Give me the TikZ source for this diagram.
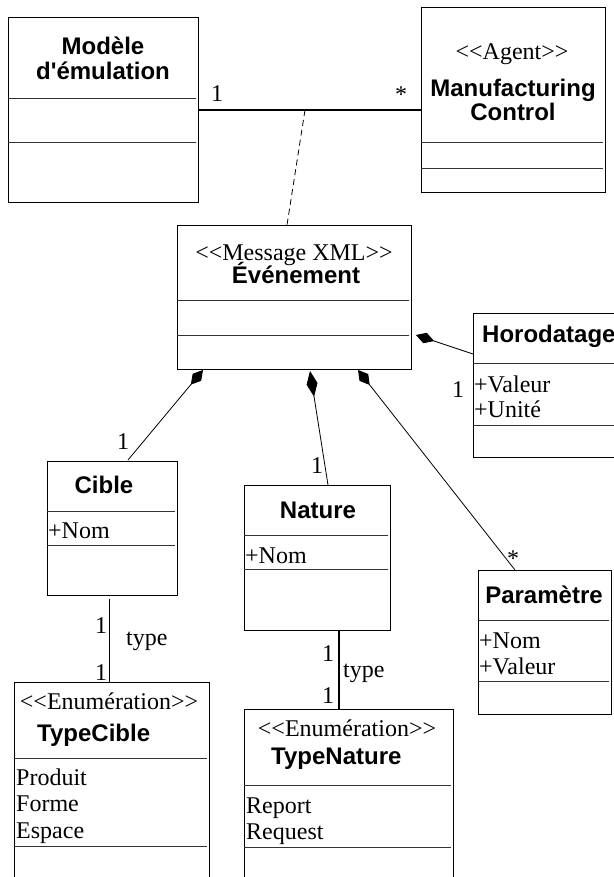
\documentclass[tikz,border=0pt]{standalone}
\usepackage{fontspec}
\newfontfamily\umlserif{Liberation Serif}
\newfontfamily\clsfont{Liberation Sans}
\usetikzlibrary{arrows.meta,calc}

\begin{document}
\begin{tikzpicture}[x=1pt, y=-1pt,
  font=\umlserif\fontsize{24}{26}\selectfont,
  cls/.style={draw, line width=1pt, anchor=north west, inner sep=0pt},
  sep/.style={line width=1pt, draw=black!80, shorten >=3pt},
  cname/.style={font=\clsfont\bfseries\fontsize{24}{25}\selectfont, inner sep=0pt, anchor=base},
  attr/.style={inner sep=0pt, anchor=base west, align=left},
  stereo/.style={inner sep=0pt, anchor=base},
  mult/.style={inner sep=0pt, anchor=base},
  comp/.style={-{Diamond[length=19pt, width=11pt]}, line width=0.8pt},
  assoc/.style={line width=1.8pt},
  link/.style={line width=1pt}]

\useasboundingbox (0,0) rectangle (613,877);

% Classes
\node[cls, minimum width=190pt, minimum height=185pt] (modele) at (8,17) {};
\node[cls, minimum width=184pt, minimum height=185pt] (manuf) at (421,7) {};
\node[cls, minimum width=234pt, minimum height=144pt] (evt) at (177,225) {};
\node[cls, minimum width=145pt, minimum height=144pt] (horo) at (473,313) {};
\node[cls, minimum width=130pt, minimum height=134pt] (cible) at (47,461) {};
\node[cls, minimum width=146pt, minimum height=145pt] (nature) at (244,485) {};
\node[cls, minimum width=133pt, minimum height=144pt] (param) at (478,570) {};
\node[cls, minimum width=195pt, minimum height=220pt] (tcible) at (14,682) {};
\node[cls, minimum width=209pt, minimum height=200pt] (tnature) at (244,709) {};

% Compartments
\draw[sep] (modele.west |- 0,99) -- (modele.east |- 0,99);
\draw[sep] (modele.west |- 0,143) -- (modele.east |- 0,143);
\draw[sep] (manuf.west |- 0,143) -- (manuf.east |- 0,143);
\draw[sep] (manuf.west |- 0,169) -- (manuf.east |- 0,169);
\draw[sep] (evt.west |- 0,300) -- (evt.east |- 0,300);
\draw[sep] (evt.west |- 0,335) -- (evt.east |- 0,335);
\draw[sep] (horo.west |- 0,363) -- (horo.east |- 0,363);
\draw[sep] (horo.west |- 0,425) -- (horo.east |- 0,425);
\draw[sep] (cible.west |- 0,511) -- (cible.east |- 0,511);
\draw[sep] (cible.west |- 0,545) -- (cible.east |- 0,545);
\draw[sep] (nature.west |- 0,535) -- (nature.east |- 0,535);
\draw[sep] (nature.west |- 0,569) -- (nature.east |- 0,569);
\draw[sep] (param.west |- 0,620) -- (param.east |- 0,620);
\draw[sep] (param.west |- 0,681) -- (param.east |- 0,681);
\draw[sep] (tcible.west |- 0,758) -- (tcible.east |- 0,758);
\draw[sep] (tcible.west |- 0,846) -- (tcible.east |- 0,846);
\draw[sep] (tnature.west |- 0,785) -- (tnature.east |- 0,785);
\draw[sep] (tnature.west |- 0,847) -- (tnature.east |- 0,847);

% Names, stereotypes, attributes (base = last line)
\node[cname, align=center] (modeleN) at (103,80) {Modèle\\d'émulation};
\node[stereo] (manufS) at (512,60) {<<Agent>>};
\node[cname, align=center, font=\clsfont\bfseries\fontsize{24}{24}\selectfont] (manufN) at (513,121) {Manufacturing\\Control};
\node[stereo] (evtS) at (294,260) {<<Message XML>>};
\node[cname] (evtN) at (296,283) {Événement};
\node[cname, anchor=base west] (horoN) at (482,342) {Horodatage};
\node[attr, font=\umlserif\fontsize{24}{25}\selectfont] (horoA) at (474,417) {+Valeur\\+Unité};
\node[cname] (cibleN) at (104,493) {Cible};
\node[attr] (cibleA) at (48,538) {+Nom};
\node[cname] (natureN) at (318,518) {Nature};
\node[attr] (natureA) at (245,563) {+Nom};
\node[cname] (paramN) at (544,603) {Paramètre};
\node[attr] (paramA) at (479,674) {+Nom\\+Valeur};
\node[stereo] (tcibleS) at (109,709) {<<Enumération>>};
\node[cname, anchor=base west] (tcibleN) at (37,741) {TypeCible};
\node[attr, font=\umlserif\fontsize{24}{26.5}\selectfont] (tcibleA) at (16,838) {Produit\\Forme\\Espace};
\node[stereo] (tnatureS) at (347,736) {<<Enumération>>};
\node[cname, anchor=base west] (tnatureN) at (271,764) {TypeNature};
\node[attr] (tnatureA) at (246,839) {Report\\Request};

% Ends of the links
\coordinate (assocMid) at (305,110);
\coordinate (dHoro) at ($(evt.north east)+(4,110)$);
\coordinate (dCible) at ($(evt.south west)+(26,0)$);
\coordinate (dNature) at ($(evt.south west)+(133,1)$);
\coordinate (dParam) at ($(evt.south west)+(181,0)$);

% Links
\draw[assoc] (modele.east) -- (manuf.west |- modele.east);
\draw[link, dashed, dash pattern=on 6pt off 4pt, line width=0.8pt] (assocMid) -- ($(evt.north west)+(110,0)$);
\draw[comp] ($(horo.north west)+(0,41)$) -- (dHoro);
\draw[comp] ($(cible.north west)+(81,-1)$) -- (dCible);
\draw[comp, -{Diamond[length=26pt, width=11pt]}] ($(nature.north west)+(84,0)$) -- (dNature);
\draw[comp] ($(param.north west)+(37,0)$) -- (dParam);
\draw[link] ($(cible.south west)+(62,3)$) -- ($(tcible.north west)+(95,0)$);
\draw[assoc] ($(nature.south west)+(95,0)$) -- ($(tnature.north west)+(95,0)$);

% Multiplicities and roles
\node[mult, anchor=base west] (mModele) at (211,102) {1};
\node[mult] (mManuf) at (401,103) {*};
\node[mult] (mHoro) at (458,397) {1};
\node[mult] (mCible) at (123,449) {1};
\node[mult] (mNature) at (317,473) {1};
\node[mult] (mParam) at (513,566) {*};
\node[mult] (mCible1) at (101,633) {1};
\node[mult] (mCible2) at (101,680) {1};
\node[mult, anchor=base west] (rCible) at (126,645) {type};
\node[mult] (mNature1) at (328,661) {1};
\node[mult] (mNature2) at (328,703) {1};
\node[mult, anchor=base west] (rNature) at (343,677) {type};
\end{tikzpicture}
\end{document}
